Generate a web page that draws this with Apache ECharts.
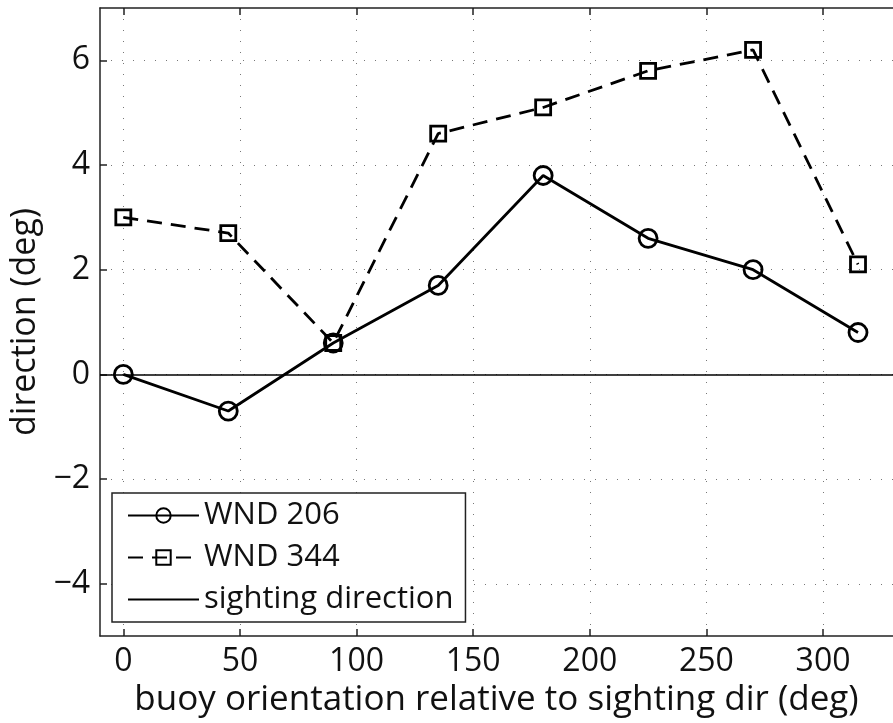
<!DOCTYPE html>
<html><head><meta charset="utf-8">
<script src="https://cdn.jsdelivr.net/npm/echarts@6/dist/echarts.min.js"></script>
<style>html,body{margin:0;padding:0;background:#fff}#c{width:893px;height:723px}</style>
</head><body><div id="c"></div>
<script>
const xValues = [0, 45, 90, 135, 180, 225, 270, 315];
const wnd206 = [0, -0.7, 0.6, 1.7, 3.8, 2.6, 2.0, 0.8];
const wnd344 = [3.0, 2.7, 0.6, 4.6, 5.1, 5.8, 6.2, 2.1];
const xTicks = [0, 50, 100, 150, 200, 250, 300];
const yTicks = [-4, -2, 0, 2, 4, 6];
const sightingValue = 0;
const seriesNames = ['WND 206', 'WND 344', 'sighting direction'];

const FONT = 'Open Sans';
const chart = echarts.init(document.getElementById('c'), null, {renderer: 'canvas'});
const fmt = v => String(v).replace('-', '\u2212');
const frame = {lineStyle: {color: '#222', width: 1.5}};
const tick = {show: true, inside: true, length: 7, lineStyle: {color: '#222', width: 1.5}};
chart.setOption({
  animation: false,
  backgroundColor: '#fff',
  grid: {left: 100, top: 8, right: -6, bottom: 86, containLabel: false},
  xAxis: [{
    type: 'value', min: -10, max: 330, position: 'bottom',
    name: 'buoy orientation relative to sighting dir (deg)', nameLocation: 'middle', nameGap: 41,
    nameTextStyle: {fontFamily: FONT, fontSize: 35, color: '#111'},
    axisLine: {show: true, onZero: false, ...frame},
    axisTick: {...tick, customValues: xTicks},
    axisLabel: {customValues: xTicks, fontFamily: FONT, fontSize: 32, color: '#111', margin: 10, formatter: fmt},
    splitLine: {show: true, lineStyle: {color: '#777', width: 1, type: [1, 10]}}
  }, {
    type: 'value', min: -10, max: 330, position: 'top',
    axisLine: {show: true, onZero: false, ...frame},
    axisTick: {...tick, customValues: xTicks},
    axisLabel: {show: false}, splitLine: {show: false}
  }],
  yAxis: [{
    type: 'value', min: -5, max: 7, position: 'left',
    name: 'direction (deg)', nameLocation: 'middle', nameGap: 54, nameRotate: 90,
    nameTextStyle: {fontFamily: FONT, fontSize: 34, color: '#111'},
    axisLine: {show: true, onZero: false, ...frame},
    axisTick: {...tick, customValues: yTicks},
    axisLabel: {customValues: yTicks, fontFamily: FONT, fontSize: 32, color: '#111', margin: 10, formatter: fmt},
    splitLine: {show: true, lineStyle: {color: '#777', width: 1, type: [1, 10]}}
  }],
  legend: {
    left: 112, top: 493, orient: 'vertical',
    data: [seriesNames[0], seriesNames[1], {name: seriesNames[2], itemStyle: {opacity: 0}}],
    backgroundColor: '#fff', borderColor: '#222', borderWidth: 1.5,
    padding: [7, 12, 7, 15], itemGap: 11, itemWidth: 71, itemHeight: 18,
    textStyle: {fontFamily: FONT, fontSize: 31, color: '#111'}
  },
  series: [{
    name: seriesNames[0], type: 'line',
    data: xValues.map((x, i) => [x, wnd206[i]]),
    symbol: 'circle', symbolSize: 18, showAllSymbol: true,
    lineStyle: {color: '#000', width: 2.8},
    itemStyle: {color: 'rgba(255,255,255,0)', borderColor: '#000', borderWidth: 2.8},
    z: 5
  }, {
    name: seriesNames[1], type: 'line',
    data: xValues.map((x, i) => [x, wnd344[i]]),
    symbol: 'rect', symbolSize: 15, showAllSymbol: true,
    lineStyle: {color: '#000', width: 2.8, type: [15, 9]},
    itemStyle: {color: 'rgba(255,255,255,0)', borderColor: '#000', borderWidth: 2.8},
    z: 4
  }, {
    name: seriesNames[2], type: 'line',
    data: [], symbol: 'none',
    lineStyle: {color: '#000', width: 1.5},
    itemStyle: {color: '#000'},
    markLine: {silent: true, symbol: 'none', label: {show: false},
      lineStyle: {color: '#000', width: 1.5, type: 'solid'},
      data: [{yAxis: sightingValue}]},
    z: 3
  }]
});
</script></body></html>
